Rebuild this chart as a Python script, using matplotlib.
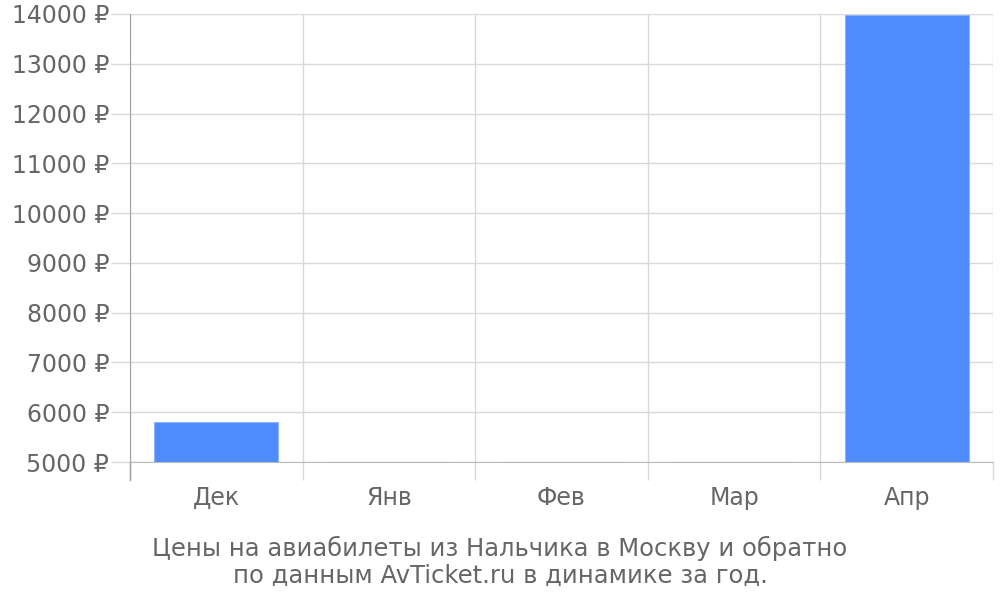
import matplotlib
matplotlib.use("Agg")
import matplotlib.pyplot as plt
import numpy as np

plt.rcParams["font.family"] = ["DejaVu Sans"]

# Prices for flights Nalchik - Moscow by month
months = ["Дек", "Янв", "Фев", "Мар", "Апр"]
prices = [5800, 0, 0, 0, 13980]
y_ticks = list(range(5000, 14001, 1000))

caption = "Цены на авиабилеты из Нальчика в Москву и обратно\nпо данным AvTicket.ru в динамике за год."

fig = plt.figure(figsize=(10, 6), dpi=100)
ax = fig.add_axes([0.13, 0.23, 0.863, 0.7467])

x = np.arange(len(months))
base = 5000
heights = [p - base if p > base else 0 for p in prices]
ax.bar(x, heights, bottom=base, width=0.72, color="#4e8bfb", edgecolor="#8fb3fb",
       linewidth=0.8, zorder=3)

ax.set_xlim(-0.5, len(months) - 0.5)
ax.set_ylim(5000, 14000)

# vertical grid lines at category boundaries, ticks stick out below
ax.set_xticks(np.arange(-0.5, len(months), 1.0))
ax.set_xticklabels([])
ax.set_xticks(x, minor=True)
ax.set_xticklabels(months, minor=True)
ax.tick_params(axis="x", which="major", length=13, color="#d9d9d9", width=1)
ax.tick_params(axis="x", which="minor", length=0, pad=17.5, labelsize=17, labelcolor="#666666")
ax.grid(axis="x", which="major", color="#d9d9d9", linewidth=1, zorder=0)

ax.set_yticks(y_ticks)
ax.set_yticklabels([f"{v} ₽" for v in y_ticks])
ax.tick_params(axis="y", length=14, color="#d9d9d9", width=1, pad=1,
               labelsize=17, labelcolor="#666666")
ax.grid(axis="y", color="#d9d9d9", linewidth=1, zorder=0)

for side in ["top", "right"]:
    ax.spines[side].set_visible(False)
ax.spines["left"].set_color("#a0a0a0")
ax.spines["left"].set_bounds(5000, 14000)
ax.spines["bottom"].set_color("#bbbbbb")

# extend left axis line below the plot like in the original
ax.plot([-0.5, -0.5], [0, -0.04], transform=ax.get_xaxis_transform(),
        color="#a0a0a0", linewidth=1, clip_on=False)

fig.text(0.5, 0.02, caption, ha="center", va="bottom", fontsize=17.5,
         color="#666666", linespacing=1.17)

fig.savefig("out.png", dpi=100)
